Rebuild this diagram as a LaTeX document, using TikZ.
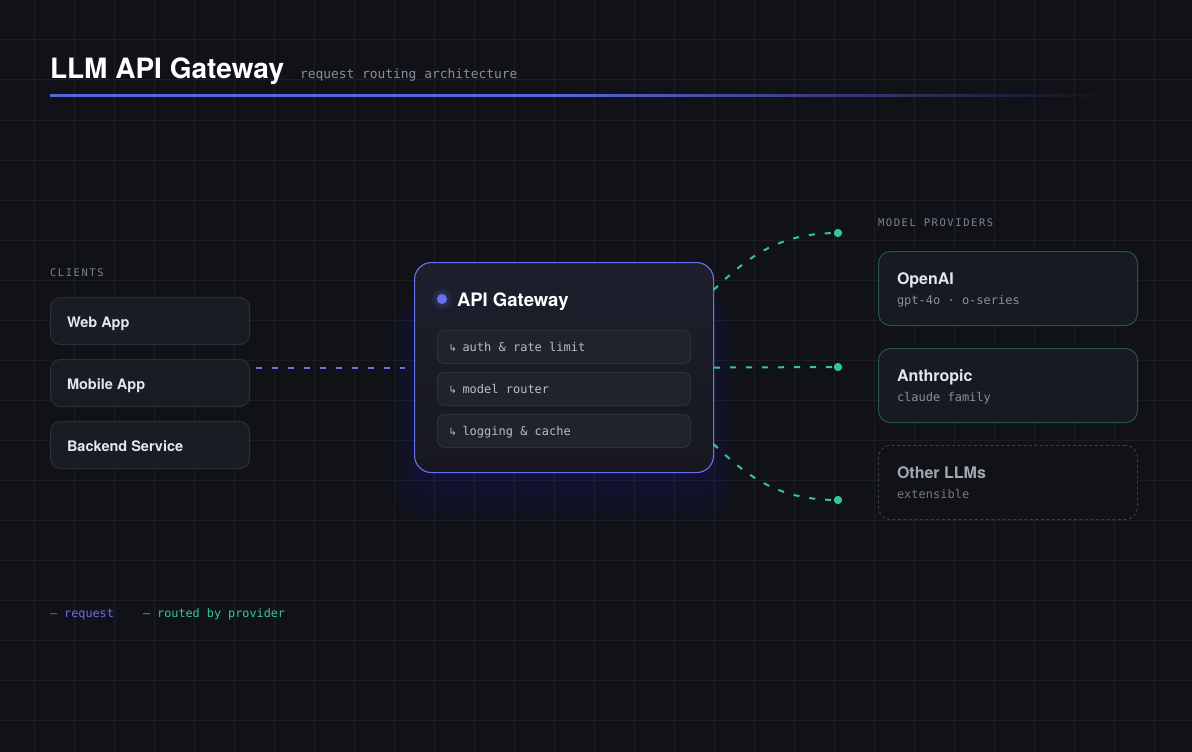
\documentclass[tikz,border=0pt]{standalone}
\usepackage{fontspec}
\setmainfont{TeX Gyre Heros}
\setmonofont{DejaVu Sans Mono}
\newfontfamily\arrowfont{DejaVu Sans}
\newfontfamily\spacedmono[LetterSpace=15]{DejaVu Sans Mono}
\definecolor{bgc}{HTML}{111217}
\definecolor{gridc}{HTML}{1C1E25}
\definecolor{boxfill}{HTML}{1A1C23}
\definecolor{boxline}{HTML}{2C2F38}
\definecolor{indigo}{HTML}{6770EE}
\definecolor{indigoline}{HTML}{5B63DC}
\definecolor{glowc}{HTML}{5A62C8}
\definecolor{greenc}{HTML}{36C790}
\definecolor{greenline}{HTML}{25573F}
\definecolor{labelc}{HTML}{7D8394}
\definecolor{subc}{HTML}{8A8F9C}
\definecolor{textc}{HTML}{E4E7EF}
\definecolor{rowfill}{HTML}{20222C}
\definecolor{rowline}{HTML}{2E313B}
\definecolor{rowtext}{HTML}{B9BDCA}
\definecolor{provfill}{HTML}{171A20}
\definecolor{othertitle}{HTML}{A2A6B0}
\definecolor{othersub}{HTML}{747985}
\definecolor{otherline}{HTML}{3C3F49}
\definecolor{gwtop}{HTML}{1D1F2D}
\definecolor{gwbot}{HTML}{16171F}
\pgfdeclarehorizontalshading{headline}{100bp}{color(0bp)=(indigoline); color(49bp)=(indigoline); color(75bp)=(bgc); color(100bp)=(bgc)}
\tikzset{
  txt/.style={anchor=base west, inner sep=0pt, outer sep=0pt},
  sectionlabel/.style={txt, text=labelc, font=\spacedmono\fontsize{10.5}{12}\selectfont},
  client/.style={draw=boxline, fill=boxfill, line width=1pt, rounded corners=10pt,
    anchor=north west, minimum width=199pt, minimum height=47pt, inner sep=0pt},
  clienttext/.style={txt, text=textc, font=\fontsize{14.5}{17}\selectfont\bfseries},
  gwbox/.style={draw=indigo, line width=1.1pt, rounded corners=17pt, top color=gwtop, bottom color=gwbot,
    anchor=north west, minimum width=299pt, minimum height=210pt, inner sep=0pt},
  rowbox/.style={draw=rowline, fill=rowfill, line width=0.9pt, rounded corners=7pt,
    anchor=north west, minimum width=253pt, minimum height=33pt, inner sep=0pt},
  rowtxt/.style={txt, text=rowtext, font=\ttfamily\fontsize{12}{14}\selectfont},
  rowarrow/.style={txt, text=rowtext, font=\arrowfont\fontsize{10}{12}\selectfont},
  provbox/.style={draw=greenline, fill=provfill, line width=1pt, rounded corners=12pt,
    anchor=north west, minimum width=259pt, minimum height=74pt, inner sep=0pt},
  otherbox/.style={draw=otherline, fill=bgc, line width=0.9pt, dash pattern=on 3pt off 2.5pt, rounded corners=12pt,
    anchor=north west, minimum width=259pt, minimum height=74pt, inner sep=0pt},
  provtitle/.style={txt, text=textc, font=\fontsize{16}{18}\selectfont\bfseries},
  provsub/.style={txt, text=subc, font=\ttfamily\fontsize{12}{14}\selectfont},
  gdot/.style={circle, fill=greenc, minimum size=8pt, inner sep=0pt},
  req/.style={draw=indigo, line width=2pt, dash pattern=on 6pt off 10pt},
  route/.style={draw=greenc, line width=2pt, dash pattern=on 6pt off 10pt},
}
\begin{document}
\begin{tikzpicture}[x=1pt,y=-1pt]
\useasboundingbox (0,0) rectangle (1192,752);
\fill[bgc] (0,0) rectangle (1192,752);
% grid
\foreach \k in {0,...,28} { \draw[gridc, line width=1pt] (34.5+\k*40,0) -- (34.5+\k*40,752); }
\foreach \k in {1,...,18} { \draw[gridc, line width=1pt] (0,\k*40) -- (1192,\k*40); }

% header
\node[txt, text=white, font=\fontsize{28}{30}\selectfont\bfseries] (title) at (50,79) {LLM API Gateway};
\node[txt, text=subc, font=\ttfamily\fontsize{12.9}{15}\selectfont] (subtitle) at (300,78) {request routing architecture};
\shade[shading=headline] (50,95) rectangle (1112,97);

% clients
\node[sectionlabel] (clientslabel) at (50,276) {CLIENTS};
\node[client] (web) at (50,297) {};
\node[clienttext] (webtext) at (67,327) {Web App};
\node[client] (mobile) at (50,359) {};
\node[clienttext] (mobiletext) at (67,389) {Mobile App};
\node[client] (backend) at (50,421) {};
\node[clienttext] (backendtext) at (67,451) {Backend Service};

% gateway glow
\foreach \i in {1,...,24} {
  \fill[glowc, opacity=0.013, rounded corners=24pt] (420-\i*1.1, 300) rectangle (707+\i*1.1, 476+\i*1.8);
}
\node[gwbox] (gw) at (414,262) {};
\foreach \i in {1,...,5} { \fill[indigo, opacity=0.05] (442,299) circle (5+\i*1.2); }
\node[circle, fill=indigo, minimum size=10pt, inner sep=0pt] (gwdot) at (442,299) {};
\node[txt, text=white, font=\fontsize{18.5}{20}\selectfont\bfseries] (gwtitle) at (457,306) {API Gateway};
\node[rowbox] (r1) at (437,330) {};
\node[rowarrow] (a1) at (448.5,351) {↳};
\node[rowtxt] (r1text) at (462.5,351) {auth \& rate limit};
\node[rowbox] (r2) at (437,372) {};
\node[rowarrow] (a2) at (448.5,393) {↳};
\node[rowtxt] (r2text) at (462.5,393) {model router};
\node[rowbox] (r3) at (437,414) {};
\node[rowarrow] (a3) at (448.5,435) {↳};
\node[rowtxt] (r3text) at (462.5,435) {logging \& cache};

% request line
\draw[req, shorten <=5.5pt, shorten >=9pt] (mobile.east |- gw.west) -- (gw.west);

% providers
\node[sectionlabel] (provlabel) at (878,226) {MODEL PROVIDERS};
\node[provbox] (openai) at (878,251) {};
\node[provtitle] (openaititle) at (897,284) {OpenAI};
\node[provsub] (openaisub) at (897,304.5) {gpt-4o · o-series};
\node[provbox] (anthropic) at (878,348) {};
\node[provtitle] (anthtitle) at (897,381) {Anthropic};
\node[provsub] (anthsub) at (897,401.5) {claude family};
\node[otherbox] (other) at (878,445) {};
\node[provtitle, text=othertitle] (othertitle) at (897,478) {Other LLMs};
\node[provsub, text=othersub] (othersub) at (897,498.5) {extensible};

% routing
\coordinate (g1) at (713.5,290);
\coordinate (g3) at (713.5,444);
\node[gdot] (t1) at (838,233) {};
\node[gdot] (t2) at (838,367) {};
\node[gdot] (t3) at (838,500) {};
\draw[route] (g1) .. controls (750,255) and (780,233) .. (t1.center);
\draw[route] (gw.east) -- (t2.center);
\draw[route] (g3) .. controls (750,479) and (780,500) .. (t3.center);
\node[gdot] at (t1) {};
\node[gdot] at (t2) {};
\node[gdot] at (t3) {};

% legend
\node[txt, text=indigo, font=\ttfamily\fontsize{11.8}{14}\selectfont] (legreq) at (50,617) {— request};
\node[txt, text=greenc, font=\ttfamily\fontsize{11.8}{14}\selectfont] (legroute) at (143,617) {— routed by provider};
\end{tikzpicture}
\end{document}
